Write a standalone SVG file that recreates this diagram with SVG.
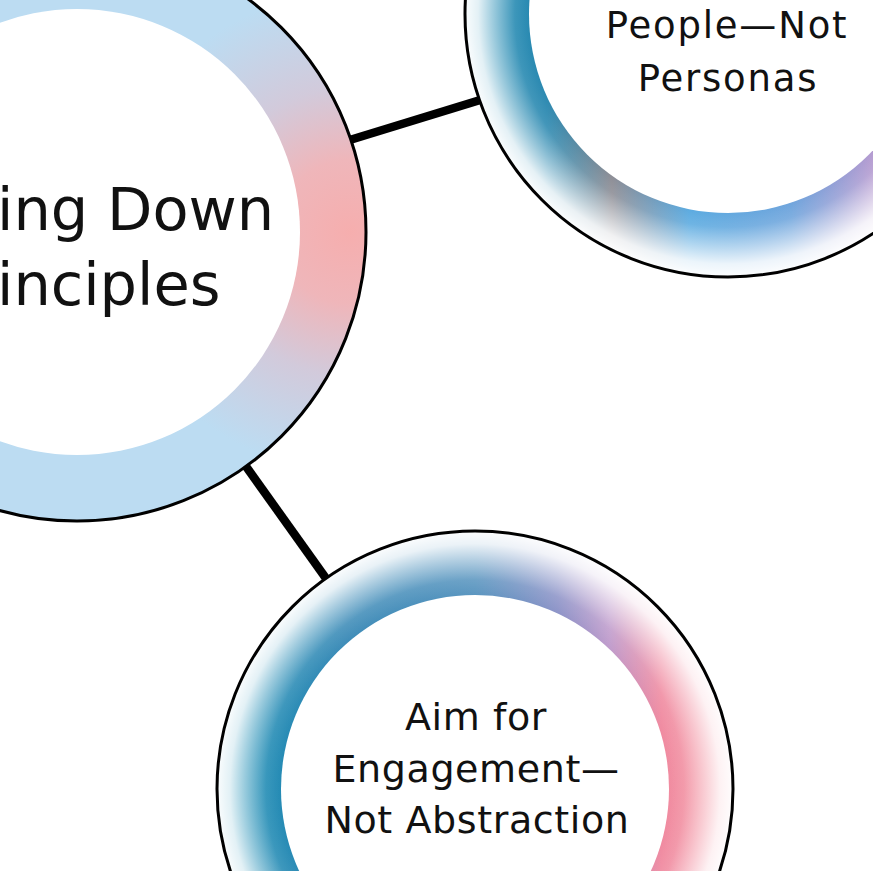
<svg xmlns="http://www.w3.org/2000/svg" width="873" height="871" viewBox="0 0 873 871">
  <defs>
    <radialGradient id="gMain" gradientUnits="userSpaceOnUse" cx="350" cy="232" r="240">
      <stop offset="0" stop-color="#f6aeae"/>
      <stop offset="0.3" stop-color="#efb6ba"/>
      <stop offset="0.6" stop-color="#d2cadb"/>
      <stop offset="1" stop-color="#bcdcf2"/>
    </radialGradient>
    <linearGradient id="gPeople" gradientUnits="userSpaceOnUse" x1="465" y1="0" x2="873" y2="0">
      <stop offset="0" stop-color="#1688b2"/>
      <stop offset="0.2" stop-color="#2a88b0"/>
      <stop offset="0.36" stop-color="#8c8c94"/>
      <stop offset="0.55" stop-color="#5aaae0"/>
      <stop offset="0.8" stop-color="#6ea4dc"/>
      <stop offset="1" stop-color="#b49ad0"/>
    </linearGradient>
    <linearGradient id="gEngage" gradientUnits="userSpaceOnUse" x1="217" y1="0" x2="734" y2="0">
      <stop offset="0" stop-color="#0a88b0"/>
      <stop offset="0.25" stop-color="#3e8cb8"/>
      <stop offset="0.5" stop-color="#5b96c0"/>
      <stop offset="0.66" stop-color="#8e94c8"/>
      <stop offset="0.76" stop-color="#c09ccc"/>
      <stop offset="0.86" stop-color="#f08aa0"/>
      <stop offset="1" stop-color="#f4949e"/>
    </linearGradient>
    <radialGradient id="fade" gradientUnits="objectBoundingBox" cx="0.5" cy="0.5" r="0.5">
      <stop offset="0.75" stop-color="#ffffff" stop-opacity="0"/>
      <stop offset="0.81" stop-color="#ffffff" stop-opacity="0.12"/>
      <stop offset="0.89" stop-color="#ffffff" stop-opacity="0.55"/>
      <stop offset="0.95" stop-color="#ffffff" stop-opacity="0.88"/>
      <stop offset="1" stop-color="#ffffff" stop-opacity="0.98"/>
    </radialGradient>
    <style>
      .border { fill: none; stroke: #000; stroke-width: 3; }
      .hole { fill: #fff; }
      .conn { stroke: #000; stroke-width: 8.5; fill: none; }
      .lbl { font-family: "DejaVu Sans", "Liberation Sans", sans-serif; fill: #111; text-anchor: middle; }
      .big { font-family: "DejaVu Sans", "Liberation Sans", sans-serif; fill: #111; font-size: 59px; }
    </style>
  </defs>
  <rect width="873" height="871" fill="#fff"/>

  <g id="connectors">
    <line class="conn" x1="340" y1="143" x2="490" y2="97"/>
    <line class="conn" x1="240" y1="458" x2="330" y2="584"/>
  </g>

  <g id="node-main">
    <circle cx="77" cy="232" r="289" fill="url(#gMain)"/>
    <circle class="hole" cx="77" cy="232" r="223"/>
    <circle class="border" cx="77" cy="232" r="289"/>
    <text class="big" x="-3" y="230">ing Down</text>
    <text class="big" x="-3" y="305">inciples</text>
  </g>

  <g id="node-people">
    <circle cx="728" cy="14" r="263" fill="url(#gPeople)"/>
    <circle cx="728" cy="14" r="263" fill="url(#fade)"/>
    <circle class="hole" cx="728" cy="14" r="199"/>
    <circle class="border" cx="728" cy="14" r="263"/>
    <text class="lbl" font-size="37" letter-spacing="1.8" x="727" y="38">People—Not</text>
    <text class="lbl" font-size="37" letter-spacing="1.8" x="728" y="91">Personas</text>
  </g>

  <g id="node-engagement">
    <circle cx="475" cy="789" r="258" fill="url(#gEngage)"/>
    <circle cx="475" cy="789" r="258" fill="url(#fade)"/>
    <circle class="hole" cx="475" cy="789" r="194"/>
    <circle class="border" cx="475" cy="789" r="258"/>
    <text class="lbl" font-size="38" letter-spacing="0.6" x="476" y="730">Aim for</text>
    <text class="lbl" font-size="38" letter-spacing="0.6" x="476" y="782">Engagement—</text>
    <text class="lbl" font-size="38" letter-spacing="0.6" x="477" y="833">Not Abstraction</text>
  </g>
</svg>
